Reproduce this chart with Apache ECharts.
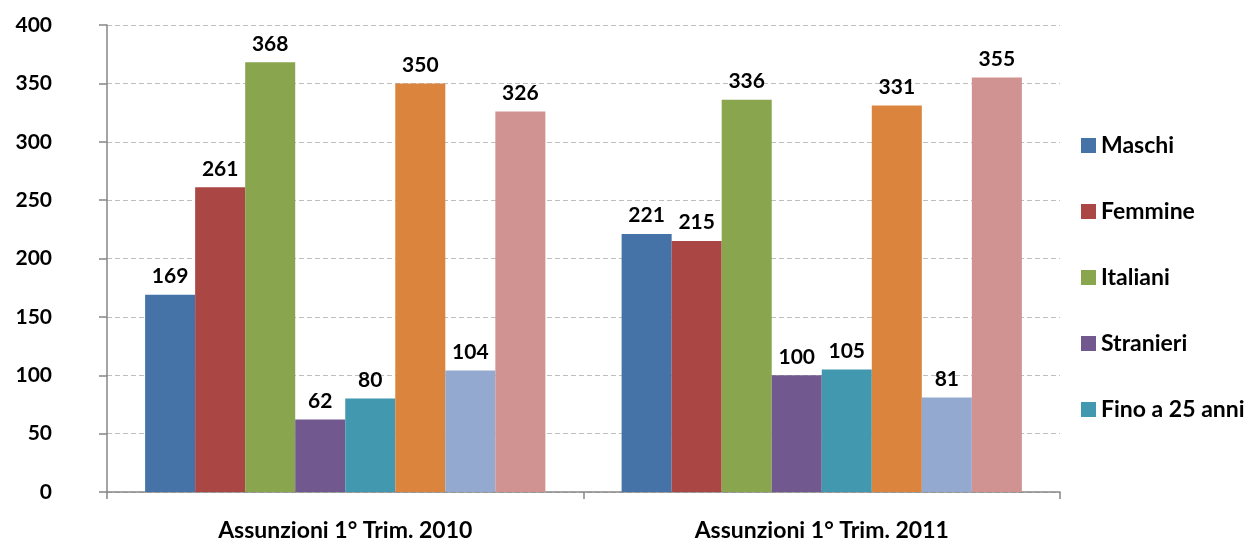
<!DOCTYPE html>
<html>
<head>
<meta charset="utf-8">
<script src="https://cdn.jsdelivr.net/npm/echarts@6/dist/echarts.min.js"></script>
<style>html,body{margin:0;padding:0;background:#fff;}#c{width:1253px;height:546px;}</style>
</head>
<body>
<div id="c"></div>
<script>
const categories = ['Assunzioni 1° Trim. 2010', 'Assunzioni 1° Trim. 2011'];
const seriesNames = ['Maschi', 'Femmine', 'Italiani', 'Stranieri', 'Fino a 25 anni', 'Serie 6', 'Serie 7', 'Serie 8'];
const legendNames = ['Maschi', 'Femmine', 'Italiani', 'Stranieri', 'Fino a 25 anni'];
const maschi = [169, 221];
const femmine = [261, 215];
const italiani = [368, 336];
const stranieri = [62, 100];
const fino25 = [80, 105];
const serie6 = [350, 331];
const serie7 = [104, 81];
const serie8 = [326, 355];
const yTicks = [0, 50, 100, 150, 200, 250, 300, 350, 400];
const colors = ['#4572A7', '#AA4643', '#89A54E', '#71588F', '#4198AF', '#DB843D', '#93A9CF', '#D19392'];

const values = [maschi, femmine, italiani, stranieri, fino25, serie6, serie7, serie8];
const font = 'Lato, "Open Sans", sans-serif';
const chart = echarts.init(document.getElementById('c'));
chart.setOption({
  animation: false,
  color: colors,
  textStyle: { fontFamily: font },
  grid: { left: 107, right: 193, top: 25, bottom: 54, containLabel: false },
  legend: {
    data: legendNames,
    orient: 'vertical',
    left: 1076,
    top: 129,
    itemWidth: 15,
    itemHeight: 15,
    itemGap: 43,
    icon: 'rect',
    textStyle: { fontFamily: font, fontWeight: 'bold', fontSize: 23, color: '#000', padding: [0, 0, 0, 0] }
  },
  xAxis: {
    type: 'category',
    data: categories,
    axisLine: { lineStyle: { color: '#868686', width: 1.5 } },
    axisTick: { show: true, length: 7, lineStyle: { color: '#868686', width: 1.5 } },
    axisLabel: { fontFamily: font, fontWeight: 'bold', fontSize: 23, color: '#000', margin: 27 }
  },
  yAxis: {
    type: 'value',
    min: 0, max: 400, interval: 50,
    axisLine: { show: true, lineStyle: { color: '#868686', width: 1.5 } },
    axisTick: { show: true, length: 8, lineStyle: { color: '#868686', width: 1.5 } },
    splitLine: { lineStyle: { color: '#BFBFBF', type: [5, 3], width: 1.2 } },
    axisLabel: { fontFamily: font, fontWeight: 'bold', fontSize: 21, color: '#000', margin: 55, align: 'right' }
  },
  series: seriesNames.map((n, i) => ({
    name: n,
    type: 'bar',
    data: values[i],
    barGap: '0%',
    barCategoryGap: '16%',
    label: { show: true, position: 'top', distance: 8, fontFamily: font, fontWeight: 'bold', fontSize: 21, color: '#000' }
  }))
});
</script>
</body>
</html>
